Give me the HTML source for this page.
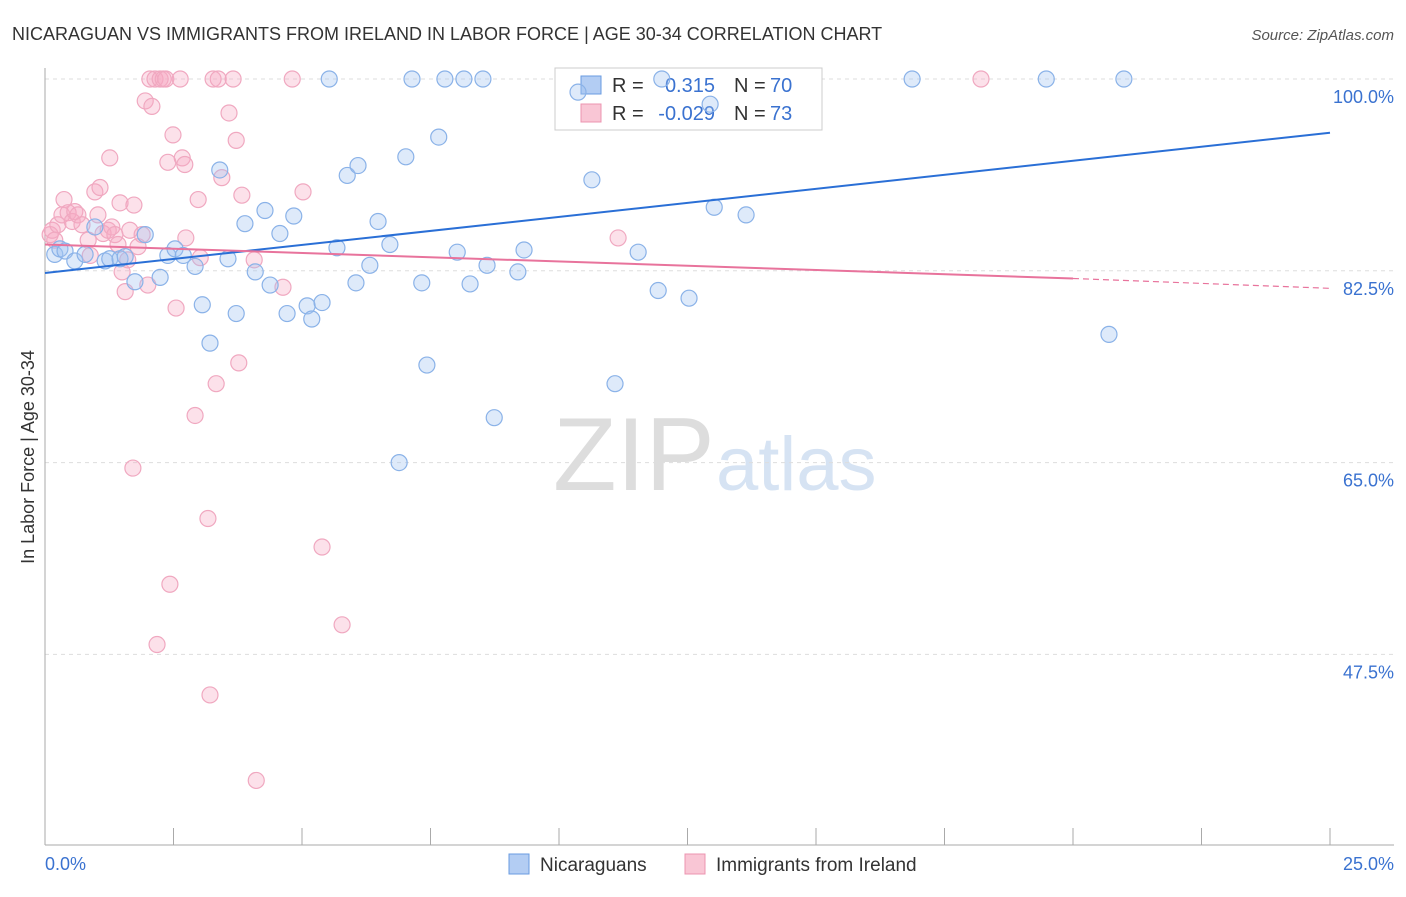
<!DOCTYPE html>
<html><head><meta charset="utf-8"><style>
body{margin:0;background:#fff;font-family:"Liberation Sans",sans-serif;}
svg text{font-family:"Liberation Sans",sans-serif;}
</style></head><body>
<svg id="c" width="1406" height="892" xmlns="http://www.w3.org/2000/svg">
<text x="12" y="40" font-size="18" fill="#333">NICARAGUAN VS IMMIGRANTS FROM IRELAND IN LABOR FORCE | AGE 30-34 CORRELATION CHART</text>
<text x="1394" y="40" font-size="15" fill="#555" font-style="italic" text-anchor="end">Source: ZipAtlas.com</text>
<g><text x="553" y="490" font-size="104" fill="#ddd" font-family="Liberation Serif,serif">ZIP</text><text x="716" y="490" font-size="76" fill="#d6e3f3">atlas</text></g>
<g id="grid"></g><g id="axes"></g>
<g>
<rect x="555" y="68" width="267" height="62" fill="#fff" stroke="#ccc"/>
<rect x="581" y="76" width="20" height="18" fill="#b3cdf3" stroke="#6a9be0"/>
<text x="612" y="92" font-size="20" fill="#333">R = </text><text x="715" y="92" font-size="20" fill="#3a72d0" text-anchor="end">0.315</text>
<text x="734" y="92" font-size="20" fill="#333">N = </text><text x="770" y="92" font-size="20" fill="#3a72d0">70</text>
<rect x="581" y="104" width="20" height="18" fill="#f9c6d5" stroke="#ec94b0"/>
<text x="612" y="120" font-size="20" fill="#333">R = </text><text x="715" y="120" font-size="20" fill="#3a72d0" text-anchor="end">-0.029</text>
<text x="734" y="120" font-size="20" fill="#333">N = </text><text x="770" y="120" font-size="20" fill="#3a72d0">73</text>
</g>
<g id="marks"></g>
<text transform="translate(34,457) rotate(-90)" font-size="18" fill="#333" text-anchor="middle">In Labor Force | Age 30-34</text>
<g>
<rect x="509" y="854" width="20" height="20" fill="#b3cdf3" stroke="#6a9be0"/><text x="540" y="871" font-size="19" fill="#333">Nicaraguans</text>
<rect x="685" y="854" width="20" height="20" fill="#f9c6d5" stroke="#ec94b0"/><text x="716" y="871" font-size="19" fill="#333">Immigrants from Ireland</text>
</g>
</svg>
<script>
const xTicks=[0,2.5,5,7.5,10,12.5,15,17.5,20,22.5,25];
const yTicks=[100,82.5,65,47.5];
const yTickLabels=["100.0%","82.5%","65.0%","47.5%"];
const blueX=[0.19,0.29,0.39,0.58,0.78,0.97,1.17,1.26,1.46,1.56,1.75,1.95,2.24,2.39,2.53,2.69,2.92,3.06,3.21,3.4,3.56,3.72,3.89,4.09,4.28,4.38,4.57,4.71,4.84,5.1,5.19,5.39,5.53,5.68,5.88,6.05,6.09,6.32,6.48,6.71,6.89,7.02,7.14,7.33,7.43,7.66,7.78,8.02,8.15,8.27,8.52,8.6,8.74,9.2,9.32,10.37,10.64,11.09,11.54,11.93,12.0,12.53,12.94,13.02,13.64,16.87,19.48,20.7,20.99];
const blueY=[84.0,84.5,84.3,83.4,84.0,86.5,83.4,83.6,83.6,83.8,81.5,85.8,81.9,83.9,84.5,83.9,82.9,79.4,75.9,91.7,83.6,78.6,86.8,82.4,88.0,81.2,85.9,78.6,87.5,79.3,78.1,79.6,100,84.6,91.2,81.4,92.1,83.0,87.0,84.9,65.0,92.9,100,81.4,73.9,94.7,100,84.2,100,81.3,100,83.0,69.1,82.4,84.4,98.8,90.8,72.2,84.2,80.7,100,80.0,97.7,88.3,87.6,100,100,76.7,100];
const pinkX=[0.10,0.14,0.19,0.25,0.33,0.37,0.45,0.53,0.58,0.64,0.72,0.84,0.88,0.97,1.03,1.07,1.13,1.23,1.26,1.30,1.36,1.42,1.46,1.50,1.56,1.61,1.65,1.73,1.71,1.81,1.89,1.95,2.00,2.04,2.08,2.14,2.18,2.24,2.30,2.35,2.39,2.43,2.49,2.55,2.63,2.67,2.72,2.74,2.92,2.98,3.02,3.17,3.21,3.27,3.33,3.37,3.44,3.58,3.66,3.72,3.77,3.83,4.07,4.11,4.63,4.81,5.02,5.39,5.78,11.15,18.21];
const pinkY=[85.8,86.2,85.3,86.7,87.6,89.0,87.8,87.0,87.9,87.6,86.7,85.3,83.9,89.7,87.6,90.1,85.9,86.2,92.8,86.5,85.8,84.9,88.7,82.4,80.6,83.5,86.2,88.5,64.5,84.7,85.8,98.0,81.2,100,97.5,100,48.4,100,100,100,92.4,53.9,94.9,79.1,100,92.8,92.2,85.5,69.3,89.0,83.7,59.9,43.8,100,72.2,100,91.0,96.9,100,94.4,74.1,89.4,83.5,36.0,81.0,100,89.7,57.3,50.2,85.5,100];
const X=v=>45+v*51.4, Y=v=>79+(100-v)*10.96;
const NS="http://www.w3.org/2000/svg";
function mk(p,t,a){const e=document.createElementNS(NS,t);for(const k in a)e.setAttribute(k,a[k]);document.getElementById(p).appendChild(e);return e;}
yTicks.forEach((v,i)=>{
 const g=mk('grid','line',{x1:45,x2:1394,y1:Y(v),y2:Y(v),stroke:'#ddd','stroke-dasharray':'4,4'});
 
 
 const t=mk('axes','text',{x:1394,y:Y(v)+24,'font-size':18,fill:'#3a72d0','text-anchor':'end'});t.textContent=yTickLabels[i];
 
 
});
const ax=mk('axes','line',{x1:45,x2:1394,y1:845,y2:845,stroke:'#aaa'});


const ay=mk('axes','line',{x1:45,x2:45,y1:68,y2:845,stroke:'#aaa'});


xTicks.forEach(v=>{const l=mk('axes','line',{x1:X(v),x2:X(v),y1:828,y2:845,stroke:'#aaa'});
 
 });
[[0,"0.0%",45,"start"],[25,"25.0%",1394,"end"]].forEach(d=>{const t=mk('axes','text',{x:d[2],y:870,'font-size':18,fill:'#3a72d0','text-anchor':d[3]});t.textContent=d[1];
 
 });
pinkX.forEach((x,i)=>{const c=mk('marks','circle',{cx:X(x),cy:Y(pinkY[i]),r:8,fill:'rgba(246,170,195,0.35)',stroke:'#f0a8c0','stroke-width':1.2});
 
 });
blueX.forEach((x,i)=>{const c=mk('marks','circle',{cx:X(x),cy:Y(blueY[i]),r:8,fill:'rgba(160,195,240,0.35)',stroke:'#8ab2e8','stroke-width':1.2});
 
 });
const bl=mk('marks','line',{x1:X(0),y1:Y(82.3),x2:X(25),y2:Y(95.1),stroke:'#2a6fd6','stroke-width':2});


const pl=mk('marks','line',{x1:X(0),y1:Y(84.9),x2:X(20),y2:Y(81.8),stroke:'#e8739c','stroke-width':2});


const pd=mk('marks','line',{x1:X(20),y1:Y(81.8),x2:X(25),y2:Y(80.9),stroke:'#e8739c','stroke-width':1.2,'stroke-dasharray':'6,4'});


</script>
</body></html>
